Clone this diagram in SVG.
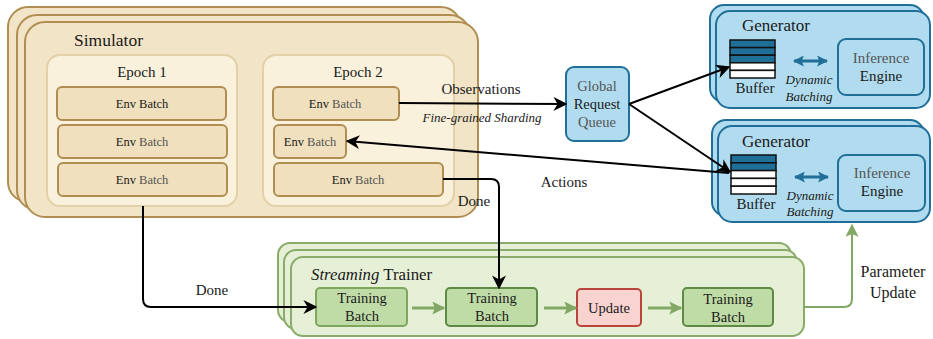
<svg xmlns="http://www.w3.org/2000/svg" width="933" height="339" viewBox="0 0 933 339" font-family="'Liberation Serif','Times New Roman',serif">
<defs>
<style>
text{font-family:"Liberation Serif","Times New Roman",serif;fill:#1a1a1a}
.g{fill:#555}
.it{font-style:italic}
.sim{fill:#f2e4c6;stroke:#b08e52;stroke-width:2}
.ep{fill:#faf1dc;stroke:#e2d1a8;stroke-width:2}
.env{fill:#f0e0bd;stroke:#b08e52;stroke-width:2}
.gen{fill:#b1dcef;stroke:#1f6f98;stroke-width:2}
.tr{fill:#e6f0d6;stroke:#8aab6a;stroke-width:2}
.tb{fill:#c0dca6;stroke:#7ea65c;stroke-width:2}
.tb2{fill:#c0dca6;stroke:#5f8a46;stroke-width:2}
.ln{fill:none;stroke:#000;stroke-width:2}
.gl{fill:none;stroke:#82a866;stroke-width:3}
.buf{stroke:#111;stroke-width:1.5}
</style>
<marker id="ahb" viewBox="0 0 10 10" refX="9" refY="5" markerWidth="14" markerHeight="14" orient="auto" markerUnits="userSpaceOnUse">
<path d="M0,0 L10,5 L0,10 L3,5 z" fill="#000"/>
</marker>
<marker id="ag" viewBox="0 0 10 10" refX="9" refY="5" markerWidth="13" markerHeight="13" orient="auto" markerUnits="userSpaceOnUse">
<path d="M0,0 L10,5 L0,10 L2,5 z" fill="#82a866"/>
</marker>
<marker id="ab" viewBox="0 0 10 10" refX="9" refY="5" markerWidth="11" markerHeight="11" orient="auto-start-reverse" markerUnits="userSpaceOnUse">
<path d="M0,0 L10,5 L0,10 L2,5 z" fill="#1f6f98"/>
</marker>
</defs>

<g id="simulator">
<rect class="sim" x="8" y="7" width="453" height="195" rx="20"/>
<rect class="sim" x="17" y="15" width="453" height="195" rx="20"/>
<rect class="sim" x="25" y="22" width="453" height="195" rx="20"/>
<text x="74" y="46" font-size="17.5" fill="#333">Simulator</text>
</g>

<g id="epoch1">
<rect class="ep" x="47" y="55" width="190" height="151" rx="13"/>
<text x="142" y="77" font-size="15" text-anchor="middle">Epoch 1</text>
</g>
<g id="epoch2">
<rect class="ep" x="263" y="55" width="191" height="151" rx="13"/>
<text x="358" y="77" font-size="15" text-anchor="middle">Epoch 2</text>
</g>

<g id="env1a"><rect class="env" x="57" y="87" width="169" height="33" rx="5"/><text x="142" y="108" font-size="12.5" text-anchor="middle">Env Batch</text></g>
<g id="env1b"><rect class="env" x="58" y="125" width="169" height="33" rx="5"/><text x="142" y="146" font-size="12.5" text-anchor="middle">Env <tspan class="g">Batch</tspan></text></g>
<g id="env1c"><rect class="env" x="58" y="163" width="169" height="33" rx="5"/><text x="142" y="184" font-size="12.5" text-anchor="middle">Env <tspan class="g">Batch</tspan></text></g>
<g id="env2a"><rect class="env" x="273" y="87" width="126" height="33" rx="5"/><text x="335" y="108" font-size="12.5" text-anchor="middle">Env <tspan class="g">Batch</tspan></text></g>
<g id="env2b"><rect class="env" x="274" y="125" width="72" height="33" rx="5"/><text x="310" y="146" font-size="12.5" text-anchor="middle">Env <tspan class="g">Batch</tspan></text></g>
<g id="env2c"><rect class="env" x="274" y="163" width="169" height="33" rx="5"/><text x="358" y="184" font-size="12.5" text-anchor="middle">Env <tspan class="g">Batch</tspan></text></g>

<g id="grq">
<rect class="gen" x="566" y="67" width="63" height="74" rx="8"/>
<text x="597" y="91" font-size="14.5" text-anchor="middle" class="g">Global</text>
<text x="597" y="109" font-size="14.5" text-anchor="middle">Request</text>
<text x="597" y="127" font-size="14.5" text-anchor="middle" class="g">Queue</text>
</g>

<g id="generator1">
<rect class="gen" x="710" y="5" width="214" height="97" rx="14"/>
<rect class="gen" x="716" y="11" width="214" height="97" rx="14"/>
<text x="742" y="31" font-size="17" fill="#333">Generator</text>
<rect x="730" y="40" width="45" height="7.6" fill="#1f6f98" class="buf"/>
<rect x="730" y="47.6" width="45" height="7.6" fill="#1f6f98" class="buf"/>
<rect x="730" y="55.2" width="45" height="7.6" fill="#1f6f98" class="buf"/>
<rect x="730" y="62.8" width="45" height="7.6" fill="#fff" class="buf"/>
<rect x="730" y="70.4" width="45" height="7.6" fill="#fff" class="buf"/>
<text x="755" y="93" font-size="15" text-anchor="middle" fill="#333">Buffer</text>
<line x1="794" y1="61" x2="827" y2="61" stroke="#1f6f98" stroke-width="3" marker-start="url(#ab)" marker-end="url(#ab)"/>
<text x="809" y="84" font-size="13" text-anchor="middle" class="it">Dynamic</text>
<text x="809" y="101" font-size="13" text-anchor="middle" class="it">Batching</text>
<rect class="gen" x="838" y="39" width="86" height="56" rx="8"/>
<text x="881" y="63" font-size="15" text-anchor="middle" class="g">Inference</text>
<text x="881" y="81" font-size="15" text-anchor="middle">Engine</text>
</g>

<g id="generator2">
<rect class="gen" x="712" y="120" width="212" height="96" rx="14"/>
<rect class="gen" x="718" y="126" width="212" height="96" rx="14"/>
<text x="742" y="147" font-size="17" fill="#333">Generator</text>
<rect x="731" y="155" width="45" height="7.8" fill="#1f6f98" class="buf"/>
<rect x="731" y="162.8" width="45" height="7.8" fill="#1f6f98" class="buf"/>
<rect x="731" y="170.6" width="45" height="7.8" fill="#fff" class="buf"/>
<rect x="731" y="178.4" width="45" height="7.8" fill="#fff" class="buf"/>
<rect x="731" y="186.2" width="45" height="7.8" fill="#fff" class="buf"/>
<text x="756" y="209" font-size="15" text-anchor="middle" fill="#333">Buffer</text>
<line x1="795" y1="177" x2="828" y2="177" stroke="#1f6f98" stroke-width="3" marker-start="url(#ab)" marker-end="url(#ab)"/>
<text x="810" y="200" font-size="13" text-anchor="middle" class="it">Dynamic</text>
<text x="810" y="216" font-size="13" text-anchor="middle" class="it">Batching</text>
<rect class="gen" x="838" y="155" width="87" height="56" rx="8"/>
<text x="882" y="178" font-size="15" text-anchor="middle" class="g">Inference</text>
<text x="882" y="196" font-size="15" text-anchor="middle">Engine</text>
</g>

<g id="trainer">
<rect class="tr" x="278" y="243" width="513" height="79" rx="12"/>
<rect class="tr" x="284" y="250" width="513" height="79" rx="12"/>
<rect class="tr" x="291" y="257" width="513" height="79" rx="12"/>
<text x="311" y="280" font-size="16.8" fill="#333"><tspan class="it">Streaming</tspan> Trainer</text>
</g>
<g id="tb1"><rect class="tb" x="316" y="288" width="91" height="38" rx="4"/><text x="362" y="303" font-size="14.5" text-anchor="middle" fill="#333">Training</text><text x="362" y="321" font-size="14.5" text-anchor="middle" fill="#333">Batch</text></g>
<g id="tb2"><rect class="tb2" x="446" y="288" width="91" height="38" rx="4"/><text x="492" y="303" font-size="14.5" text-anchor="middle" fill="#333">Training</text><text x="492" y="321" font-size="14.5" text-anchor="middle" fill="#333">Batch</text></g>
<g id="update"><rect x="577" y="289" width="64" height="37" rx="4" fill="#f8d3d0" stroke="#b9443a" stroke-width="2"/><text x="609" y="313" font-size="14.5" text-anchor="middle">Update</text></g>
<g id="tb3"><rect class="tb2" x="683" y="288" width="90" height="38" rx="4"/><text x="728" y="304" font-size="14.5" text-anchor="middle" fill="#333">Training</text><text x="728" y="322" font-size="14.5" text-anchor="middle" fill="#333">Batch</text></g>

<g id="connectors">
<line class="ln" x1="399" y1="103" x2="566" y2="104" marker-end="url(#ahb)"/>
<line class="ln" x1="629" y1="104" x2="729" y2="67" marker-end="url(#ahb)"/>
<line class="ln" x1="629" y1="104" x2="730" y2="172" marker-end="url(#ahb)"/>
<line class="ln" x1="729" y1="173" x2="347" y2="141" marker-end="url(#ahb)"/>
<path class="ln" d="M443,179 H491 Q499,179 499,187 V288" marker-end="url(#ahb)"/>
<path class="ln" d="M143,206 V299 Q143,307 151,307 H316" marker-end="url(#ahb)"/>
<line class="gl" x1="412" y1="308" x2="444" y2="308" marker-end="url(#ag)"/>
<line class="gl" x1="544" y1="308" x2="576" y2="308" marker-end="url(#ag)"/>
<line class="gl" x1="648" y1="308" x2="681" y2="308" marker-end="url(#ag)"/>
<path d="M804,307 H844 Q852,307 852,299 V225" fill="none" stroke="#82a866" stroke-width="2" marker-end="url(#ag)"/>
<text x="481" y="94" font-size="15" text-anchor="middle">Observations</text>
<text x="482" y="122" font-size="13" text-anchor="middle" class="it" fill="#333">Fine-grained Sharding</text>
<text x="564" y="187" font-size="15" text-anchor="middle">Actions</text>
<text x="474" y="206" font-size="15" text-anchor="middle">Done</text>
<text x="212" y="295" font-size="15" text-anchor="middle">Done</text>
<text x="893" y="277" font-size="16" text-anchor="middle">Parameter</text>
<text x="893" y="298" font-size="16" text-anchor="middle">Update</text>
</g>
</svg>
